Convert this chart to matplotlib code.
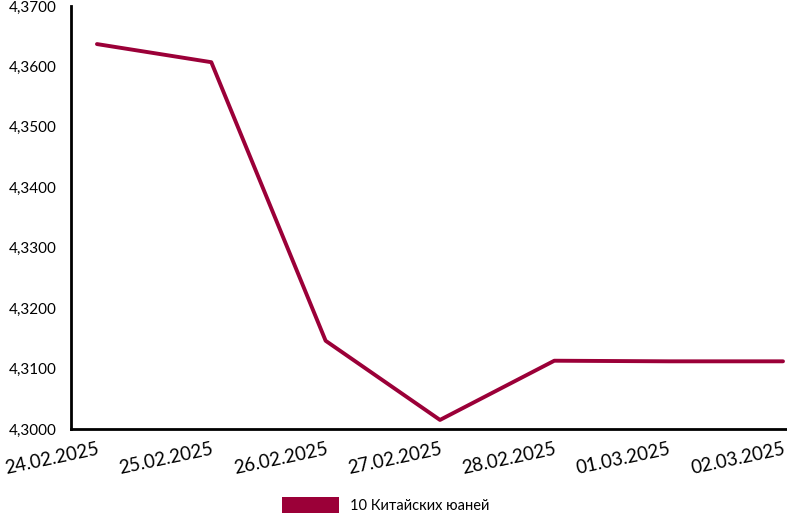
import matplotlib
matplotlib.use("Agg")
import matplotlib.pyplot as plt
from matplotlib.patches import Patch
from matplotlib.ticker import FuncFormatter

dates = ["24.02.2025", "25.02.2025", "26.02.2025", "27.02.2025",
         "28.02.2025", "01.03.2025", "02.03.2025"]
values = [4.3637, 4.3607, 4.3146, 4.3015, 4.3113, 4.3112, 4.3112]
series_name = "10 Китайских юаней"
color = "#9b0038"

plt.rcParams['font.family'] = ['Lato', 'DejaVu Sans']

fig = plt.figure(figsize=(7.87, 5.25), dpi=100)
ax = fig.add_axes([71/787, 1-429/525, 1-71/787, 423/525])
x = list(range(len(dates)))
ax.plot(x, values, color=color, lw=2.8, solid_joinstyle='round', solid_capstyle='round')

ax.set_xlim(-0.227, 6.035)
ax.set_ylim(4.30, 4.37)
ax.set_yticks([4.30 + 0.01*i for i in range(8)])
ax.yaxis.set_major_formatter(FuncFormatter(lambda v, p: f"{v:.4f}".replace('.', ',')))
ax.set_xticks(x)
ax.set_xticklabels(dates, rotation=12, ha='right', rotation_mode='anchor', fontsize=13.5)
ax.tick_params(axis='x', length=0, pad=8)
ax.tick_params(axis='y', length=0, pad=10, labelsize=11)
for s in ['top', 'right']:
    ax.spines[s].set_visible(False)
for s in ['left', 'bottom']:
    ax.spines[s].set_linewidth(2)
    ax.spines[s].set_color('black')

fig.legend(handles=[Patch(facecolor=color, edgecolor='none', label=series_name)],
           loc='center', bbox_to_anchor=(0.49, 1-505/525), frameon=False,
           handlelength=3.9, handleheight=1.3, fontsize=10.5)

fig.savefig("out.png", dpi=100)
